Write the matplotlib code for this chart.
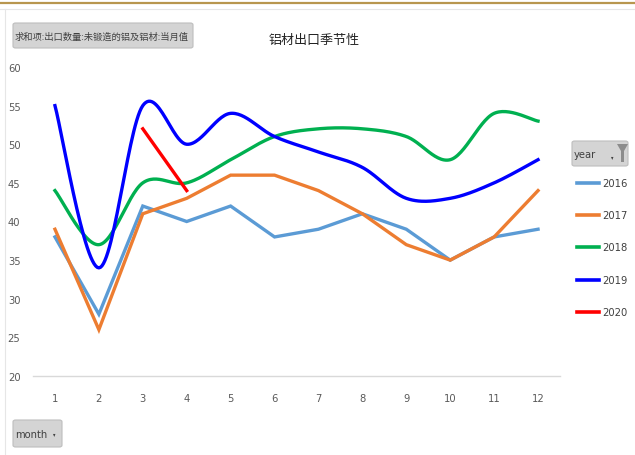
import numpy as np
import matplotlib.pyplot as plt
from matplotlib.patches import FancyBboxPatch, Polygon

plt.rcParams['font.family'] = ['DejaVu Sans', 'Noto Sans CJK SC']
plt.rcParams['font.stretch'] = 'condensed'

months = [1, 2, 3, 4, 5, 6, 7, 8, 9, 10, 11, 12]
y2016 = [38, 28, 42, 40, 42, 38, 39, 41, 39, 35, 38, 39]
y2017 = [39, 26, 41, 43, 46, 46, 44, 41, 37, 35, 38, 44]
y2018 = [44, 37, 45, 45, 48, 51, 52, 52, 51, 48, 54, 53]
y2019 = [55, 34, 55, 50, 54, 51, 49, 47, 43, 43, 45, 48]
m2020 = [3, 4]
y2020 = [52, 44]
years = ['2016', '2017', '2018', '2019', '2020']
colors = ['#5B9BD5', '#ED7D31', '#00B050', '#0000FF', '#FF0000']


def smooth(x, y, n=30):
    # excel-ish smoothed line: bezier segments with catmull-rom control points
    x = np.asarray(x, float)
    y = np.asarray(y, float)
    p = np.column_stack([x, y])
    pts = []
    for i in range(len(p) - 1):
        p0 = p[i - 1] if i > 0 else p[i]
        p3 = p[i + 2] if i + 2 < len(p) else p[i + 1]
        c1 = p[i] + (p[i + 1] - p0) / 6
        c2 = p[i + 1] - (p3 - p[i]) / 6
        t = np.linspace(0, 1, n)[:, None]
        seg = ((1 - t) ** 3 * p[i] + 3 * (1 - t) ** 2 * t * c1
               + 3 * (1 - t) * t ** 2 * c2 + t ** 3 * p[i + 1])
        pts.append(seg if i == 0 else seg[1:])
    pts = np.vstack(pts)
    return pts[:, 0], pts[:, 1]


fig = plt.figure(figsize=(6.35, 4.56), dpi=100)
W, H = 635, 456

def fx(px):
    return px / W

def fy(py):
    return 1 - py / H

# frame bits
fig.add_artist(plt.Line2D([0, 1], [fy(4), fy(4)], color='#B8964E', lw=1.6))
fig.add_artist(plt.Line2D([0, 1], [fy(10), fy(10)], color='#E6E6E6', lw=0.8))
fig.add_artist(plt.Line2D([fx(5), fx(5)], [0, fy(10)], color='#E6E6E6', lw=0.8))

ax = fig.add_axes([fx(33), fy(377), fx(560) - fx(33), (377 - 68) / H])
lw = 2.4
ax.plot(months, y2016, color=colors[0], lw=lw, solid_joinstyle='miter')
ax.plot(months, y2017, color=colors[1], lw=lw, solid_joinstyle='miter')
sx, sy = smooth(months, y2018)
ax.plot(sx, sy, color=colors[2], lw=lw)
sx, sy = smooth(months, y2019)
ax.plot(sx, sy, color=colors[3], lw=lw)
ax.plot(m2020, y2020, color=colors[4], lw=lw)

ax.set_xlim(0.5, 12.5)
ax.set_ylim(20, 60)
ax.set_xticks(months)
ax.set_yticks(range(20, 61, 5))
for s in ['top', 'right', 'left']:
    ax.spines[s].set_visible(False)
ax.spines['bottom'].set_color('#D9D9D9')
ax.spines['bottom'].set_linewidth(1)
ax.tick_params(length=0, labelsize=8, labelcolor='#595959')
ax.tick_params(axis='x', pad=12)
ax.tick_params(axis='y', pad=9)

fig.text(fx(314), fy(40), '铝材出口季节性', ha='center', va='center',
         fontsize=9.4, color='#222222', family=['Noto Sans CJK SC', 'DejaVu Sans'])

def button(x0, y0, x1, y1):
    b = FancyBboxPatch((fx(x0), fy(y1)), fx(x1) - fx(x0), fy(y0) - fy(y1),
                       boxstyle='round,pad=0,rounding_size=0.004',
                       transform=fig.transFigure, facecolor='#D4D4D4',
                       edgecolor='#BDBDBD', lw=0.8)
    fig.add_artist(b)

button(13, 24, 193, 49)
fig.text(fx(15), fy(37), '求和项:出口数量:未锻造的铝及铝材:当月值', ha='left', va='center',
         fontsize=6.7, color='#404040', family=['Noto Sans CJK SC', 'DejaVu Sans'])

button(13, 421, 62, 448)
fig.text(fx(15), fy(435), 'month', ha='left', va='center', fontsize=8, color='#404040')
fig.text(fx(54), fy(435), '▾', ha='center', va='center', fontsize=4, color='#404040',
         family=['DejaVu Sans'])

button(572, 142, 628, 167)
fig.text(fx(574), fy(155), 'year', ha='left', va='center', fontsize=8, color='#404040')
fig.text(fx(612), fy(158), '▾', ha='center', va='center', fontsize=4, color='#404040',
         family=['DejaVu Sans'])
fig.add_artist(Polygon([(fx(617), fy(145)), (fx(628), fy(145)), (fx(624), fy(152)),
                        (fx(624), fy(163)), (fx(621), fy(163)), (fx(621), fy(152))],
                       closed=True, transform=fig.transFigure, facecolor='#8C8C8C',
                       edgecolor='none'))

# legend
leg_y = [184, 216, 248, 281, 313]
for name, c, py in zip(years, colors, leg_y):
    fig.add_artist(plt.Line2D([fx(577), fx(599)], [fy(py), fy(py)], color=c, lw=2.6))
    fig.text(fx(602), fy(py), name, ha='left', va='center', fontsize=8, color='#404040')

fig.savefig('out.png', dpi=100)
